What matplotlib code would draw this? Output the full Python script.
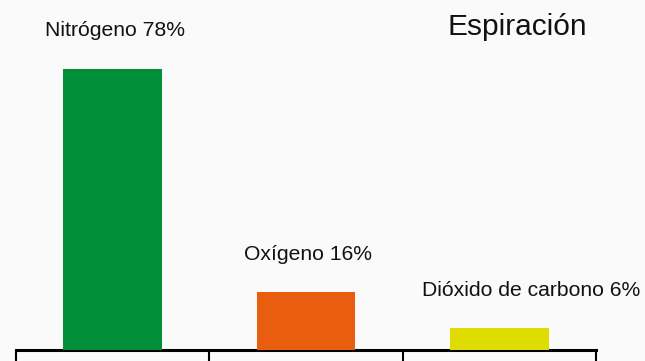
import matplotlib.pyplot as plt

# composición del aire espirado
gases = ['Nitrógeno', 'Oxígeno', 'Dióxido de carbono']
porcentajes = [78, 16, 6]
colores = ['#008f39', '#e95d0f', '#dfdc00']
titulo = 'Espiración'

plt.rcParams['font.family'] = ['Liberation Sans', 'DejaVu Sans']

fig = plt.figure(figsize=(6.45, 3.61), dpi=100)
fig.patch.set_facecolor('#fafafa')

ax = fig.add_axes([16 / 645, 11 / 361, 580 / 645, 350 / 361])
ax.patch.set_alpha(0)

x = range(len(gases))
ax.bar(x, porcentajes, width=0.51, color=colores, zorder=3, clip_on=False)

# etiquetas sobre cada barra
desplaz = [2, 2, 32]
for i, (g, p) in enumerate(zip(gases, porcentajes)):
    ax.annotate(f'{g} {p}%', (i, p), xytext=(desplaz[i], 38),
                textcoords='offset pixels', ha='center', va='center',
                fontsize=15.2, color='#111111')

ax.set_xlim(-0.5, 2.5)
ax.set_ylim(0, 78 * 350 / 281)

for s in ['top', 'right', 'left']:
    ax.spines[s].set_visible(False)
ax.spines['bottom'].set_linewidth(2.2)
ax.spines['bottom'].set_zorder(2)
ax.set_yticks([])
ax.set_xticks([-0.5, 0.5, 1.5, 2.5])
ax.set_xticklabels([])
ax.tick_params(axis='x', direction='out', length=9, width=1.5, color='black')

fig.text(517 / 645, 1 - 27 / 361, titulo, fontsize=21.5, ha='center', va='center',
         color='#111111')

fig.savefig('out.png', dpi=100, facecolor=fig.get_facecolor())
